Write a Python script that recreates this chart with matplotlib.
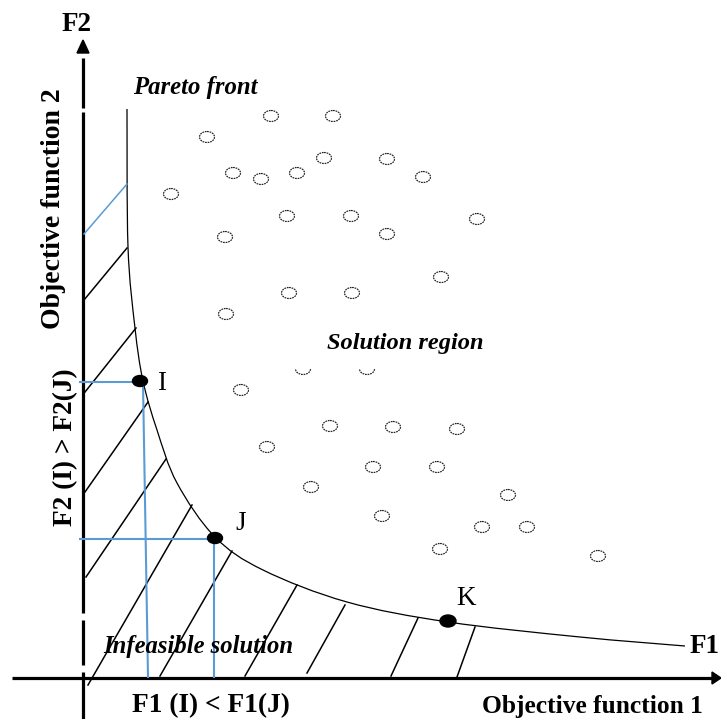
import matplotlib
matplotlib.use('Agg')
import matplotlib.pyplot as plt
from matplotlib.patches import Ellipse, Polygon, Rectangle, PathPatch
from matplotlib.path import Path

# ---- data: diagram coordinates (canvas units, y grows downward) ----
solution_x = [271, 333, 207, 324, 387, 233, 261, 297, 423, 171, 287, 351, 477, 225,
              387, 441, 289, 352, 226, 443, 303, 367, 241, 330, 393, 457, 267, 373,
              437, 311, 508, 382, 482, 527, 440, 598]
solution_y = [116, 116, 137, 158, 159, 173, 179, 173, 177, 194, 216, 216, 219, 237,
              234, 277, 293, 293, 314, 354, 369, 369, 390, 426, 427, 429, 447, 467,
              467, 487, 495, 516, 527, 527, 549, 556]

front_x = [127, 128, 135, 143, 157, 177, 215, 263, 347, 448, 580, 685]
front_y = [109, 247, 328, 381, 430, 483, 537, 570, 602, 622, 637, 646]

point_labels = ['I', 'J', 'K']
point_x = [140, 215, 448]
point_y = [381, 538, 621]
label_x = [162, 241, 466]
label_y = [390, 530, 605]

# hatch segments of the infeasible region (start on axis, end on front)
hatch_x0 = [84, 84, 85, 85, 86, 88, 160, 245, 307, 391, 457]
hatch_y0 = [234, 300, 392, 492, 577, 685, 676, 676, 673, 676, 677]
hatch_x1 = [127, 127, 136, 148, 166, 192, 232, 297, 345, 418, 475]
hatch_y1 = [184, 248, 328, 402, 459, 505, 551, 585, 605, 618, 627]
hatch_blue = [True] + [False] * 10

BLUE = '#5B9BD5'
SERIF = 'Liberation Serif'

fig = plt.figure(figsize=(7.21, 7.19), dpi=100)
ax = fig.add_axes([0, 0, 1, 1])
ax.set_xlim(0, 721)
ax.set_ylim(719, 0)
ax.axis('off')

# axes
for ya, yb in [(58, 108), (112, 613), (620, 665), (672, 719)]:
    ax.plot([83, 83], [ya, yb], color='black', lw=2.3, solid_capstyle='butt')
ax.plot([12, 713], [678, 678], color='black', lw=2.3, solid_capstyle='butt')
ax.add_patch(Polygon([(77, 53), (89, 53), (83, 40)], closed=True, color='black'))
ax.add_patch(Polygon([(712, 672), (712, 684), (721, 678)], closed=True, color='black'))

# pareto front drawn as a smooth path through the read points
pts = list(zip(front_x, front_y))
verts = [pts[0]]
codes = [Path.MOVETO]
n = len(pts)
for i in range(n - 1):
    p0 = pts[i - 1] if i > 0 else pts[i]
    p1 = pts[i]
    p2 = pts[i + 1]
    p3 = pts[i + 2] if i + 2 < n else pts[i + 1]
    c1 = (p1[0] + (p2[0] - p0[0]) / 6.0, p1[1] + (p2[1] - p0[1]) / 6.0)
    c2 = (p2[0] - (p3[0] - p1[0]) / 6.0, p2[1] - (p3[1] - p1[1]) / 6.0)
    verts += [c1, c2, p2]
    codes += [Path.CURVE4] * 3
ax.add_patch(PathPatch(Path(verts, codes), fill=False, edgecolor='black', lw=0.9))

# hatch lines
for x0, y0, x1, y1, b in zip(hatch_x0, hatch_y0, hatch_x1, hatch_y1, hatch_blue):
    ax.plot([x0, x1], [y0, y1], color=BLUE if b else 'black', lw=1.1)

# projection lines for I and J
for px, py in zip(point_x[:2], point_y[:2]):
    ax.plot([80, px], [py + 1, py + 1], color=BLUE, lw=1.5)
    ax.plot([px + (3 if px < 200 else -1), px + (8 if px < 200 else -1)], [py + 2, 677],
            color=BLUE, lw=1.5)

# solution circles
for sx, sy in zip(solution_x, solution_y):
    ax.add_patch(Ellipse((sx, sy), 15, 11, fill=False, edgecolor='#222222',
                         lw=0.85, linestyle=(0, (1.5, 0.7)), zorder=2))

# white background of region label
ax.add_patch(Rectangle((295, 325), 193, 44, facecolor='white', edgecolor='none', zorder=3))

# highlighted points
for i, (px, py) in enumerate(zip(point_x, point_y)):
    w, h = (16, 12) if i == 2 else (15, 11)
    ax.add_patch(Ellipse((px, py), w, h, color='black', zorder=4))
for lab, lx, ly in zip(point_labels, label_x, label_y):
    ax.text(lx, ly, lab, family=SERIF, fontsize=19.5, ha='center', va='baseline')

# texts
ax.text(77, 31, 'F2', family=SERIF, fontsize=19.5, weight='bold', ha='center', va='baseline')
ax.text(705, 653, 'F1', family=SERIF, fontsize=19.5, weight='bold', ha='center', va='baseline')
ax.text(195, 94, 'Pareto front', family=SERIF, fontsize=17.8, weight='bold',
        style='italic', ha='center', va='baseline')
ax.text(405, 349, 'Solution region', family=SERIF, fontsize=17.6, weight='bold',
        style='italic', ha='center', va='baseline', zorder=5)
ax.text(198, 653, 'Infeasible solution', family=SERIF, fontsize=17.7, weight='bold',
        style='italic', ha='center', va='baseline', zorder=5)
ax.text(211, 712, 'F1 (I) < F1(J)', family=SERIF, fontsize=19.7, weight='bold',
        ha='center', va='baseline')
ax.text(592, 713, 'Objective function 1', family=SERIF, fontsize=18.4, weight='bold',
        ha='center', va='baseline')
ax.text(60, 209, 'Objective function 2', family=SERIF, fontsize=20, weight='bold',
        rotation=90, rotation_mode='anchor', ha='center', va='baseline')
ax.text(72, 447, 'F2 (I) > F2(J)', family=SERIF, fontsize=19.7, weight='bold',
        rotation=90, rotation_mode='anchor', ha='center', va='baseline')

fig.savefig('out.png', dpi=100, facecolor='white')
